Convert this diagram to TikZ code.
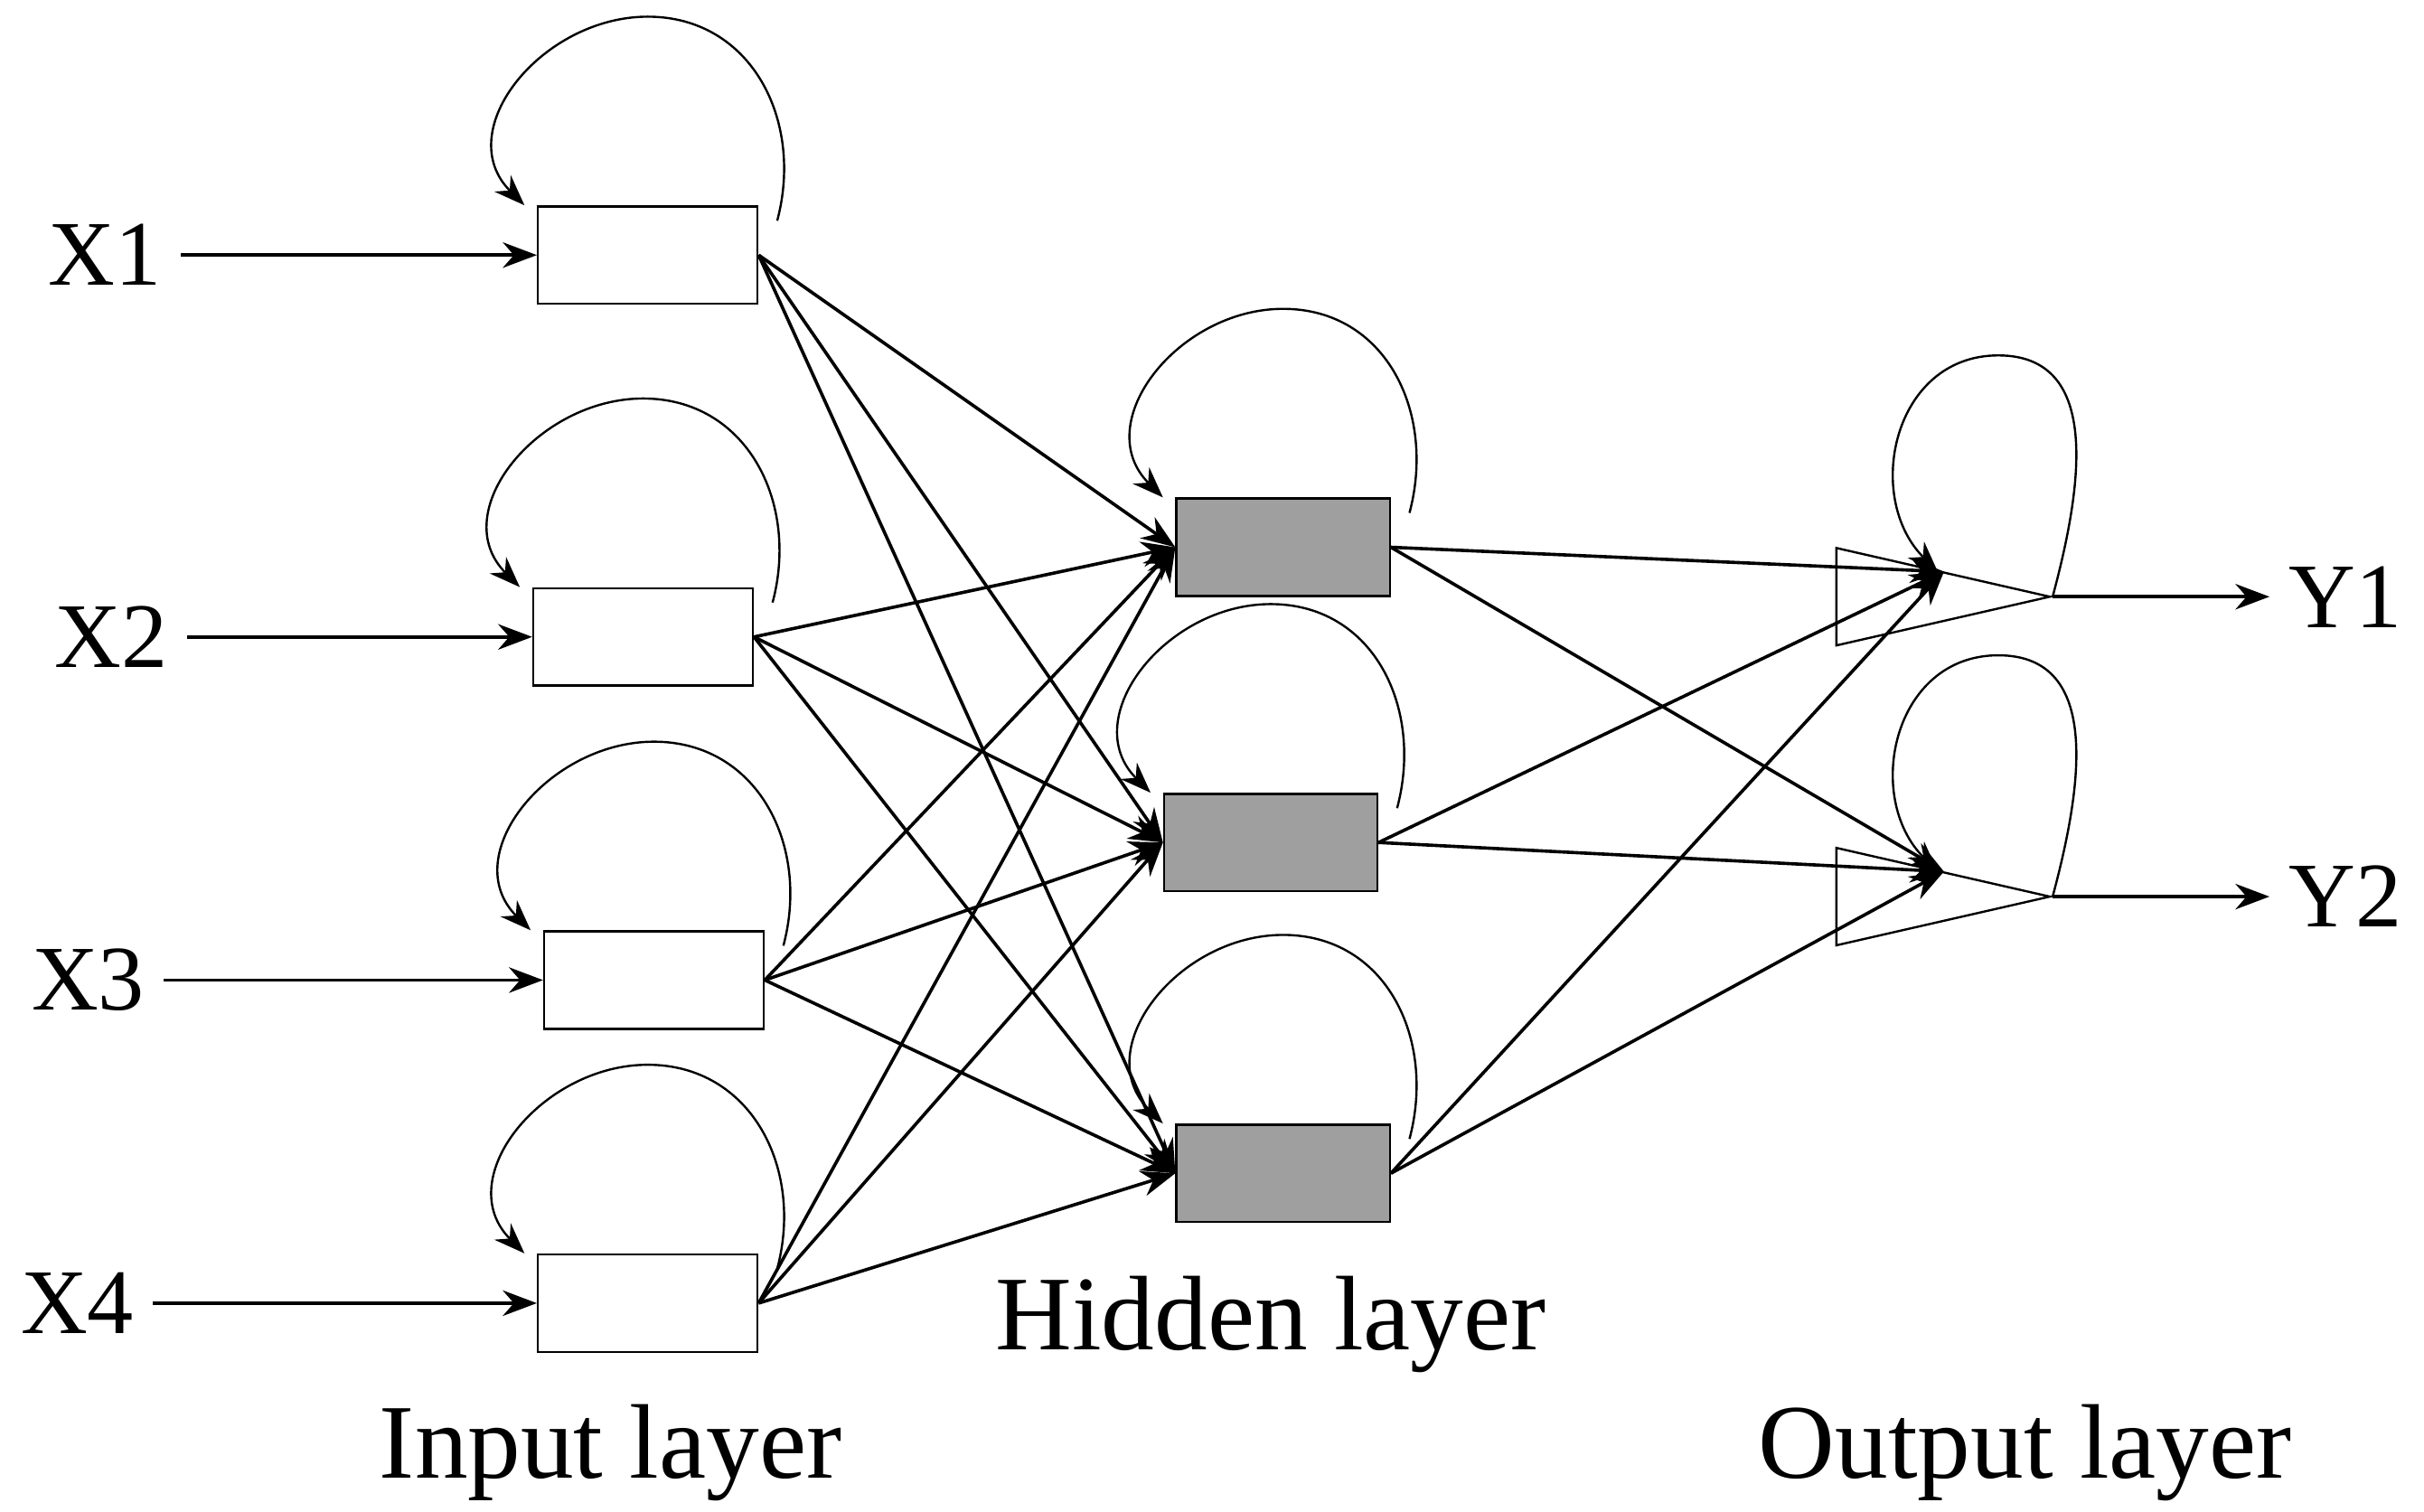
\documentclass[tikz,border=0pt]{standalone}
\usepackage{fontspec}
\setmainfont{Liberation Serif}
\usetikzlibrary{shapes.geometric,arrows.meta,calc}
\begin{document}
\begin{tikzpicture}[x=0.01cm,y=-0.01cm,
  inbox/.style = {draw, rectangle, minimum width=1.42cm, minimum height=0.63cm, inner sep=0},
  hidbox/.style = {draw, rectangle, fill=gray!75, minimum width=1.38cm, minimum height=0.63cm, inner sep=0},
  outtri/.style = {draw, isosceles triangle, isosceles triangle stretches, shape border rotate=0,
                   minimum width=0.63cm, minimum height=1.38cm, inner sep=0},
  lbl/.style = {font=\fontsize{17}{20}\selectfont},
  laylbl/.style = {font=\fontsize{19.5}{22}\selectfont},
  conn/.style = {-{Stealth[length=2.2mm]}, semithick},
  loop/.style = {-{Stealth[length=2mm]}, thin}]
\useasboundingbox (0,0) rectangle (1568,978);
% input layer
\node[inbox] (i1) at (419,165) {};
\node[inbox] (i2) at (416,412) {};
\node[inbox] (i3) at (423,634) {};
\node[inbox] (i4) at (419,843) {};
% hidden layer
\node[hidbox] (h1) at (830,354) {};
\node[hidbox] (h2) at (822,545) {};
\node[hidbox] (h3) at (830,759) {};
% output layer
\node[outtri] (o1) at (1213,386) {};
\node[outtri] (o2) at (1213,580) {};
% texts
\node[lbl] (x1) at (68,165) {X1};
\node[lbl] (x2) at (72,412) {X2};
\node[lbl] (x3) at (57,634) {X3};
\node[lbl] (x4) at (50,843) {X4};
\node[lbl] (y1) at (1517,386) {Y1};
\node[lbl] (y2) at (1517,580) {Y2};
\node[laylbl] (inl) at (395,940) {Input layer};
\node[laylbl] (hidl) at (822,857) {Hidden layer};
\node[laylbl] (outl) at (1310,940) {Output layer};
% inputs and outputs
\foreach \k in {1,...,4}
  \draw[conn] (x\k) -- (i\k);
\draw[conn] (o1.apex) -- (y1);
\draw[conn] (o2.apex) -- (y2);
% self loops
\foreach \n in {i1,i2,i3,i4,h1,h2,h3}
  \draw[loop] ($(\n.north east)+(12,10)$) to[out=75,in=0,looseness=1.1] ($(\n.north)+(0,-122)$)
    to[out=180,in=135,looseness=1.2] ($(\n.north west)+(-8,0)$);
\foreach \n in {o1,o2}
  \draw[loop] (\n.apex) to[out=75,in=0,looseness=1.1] ($(\n.apex)!0.5!(\n.left side)+(0,-148)$)
    to[out=180,in=135,looseness=1.2] ($(\n.left side)+(-4,0)$);
% weights
\foreach \a in {1,...,4}
  \foreach \b in {1,2,3}
    \draw[conn] (i\a.east) -- (h\b.west);
\foreach \a in {1,2,3}
  \foreach \b in {1,2}
    \draw[conn] (h\a.east) -- (o\b.left side);
\end{tikzpicture}
\end{document}
